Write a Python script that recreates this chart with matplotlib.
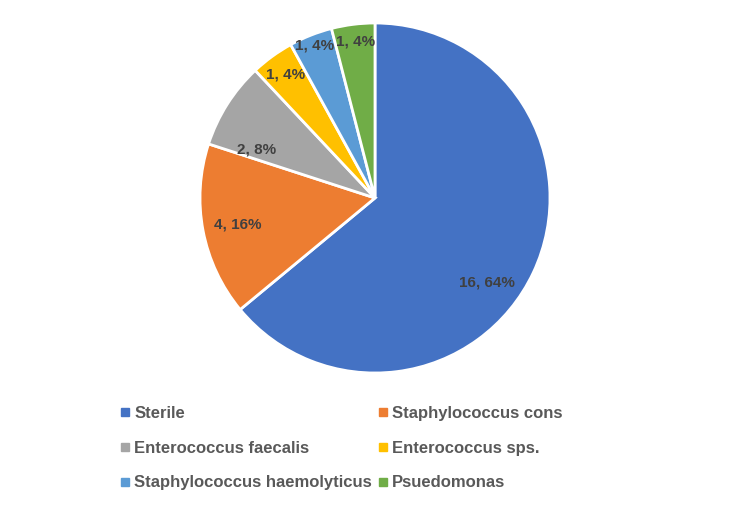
import matplotlib.pyplot as plt
import numpy as np

categories = ['Sterile', 'Staphylococcus cons', 'Enterococcus faecalis',
              'Enterococcus sps.', 'Staphylococcus haemolyticus', 'Psuedomonas']
counts = [16, 4, 2, 1, 1, 1]
colors = ['#4472C4', '#ED7D31', '#A5A5A5', '#FFC000', '#5B9BD5', '#70AD47']
label_radius = [0.8, 0.8, 0.73, 0.87, 0.94, 0.9]
label_turn = [-12, 0, 10, 0, 0, 0]  # degrees, nudges label off the mid angle

plt.rcParams['font.family'] = ['Liberation Sans', 'DejaVu Sans']

fig = plt.figure(figsize=(7.5, 5.09), dpi=100)
W, H = 750, 509
cx, cy, R = 375, 198, 175
ax = fig.add_axes([(cx - R) / W, (H - cy - R) / H, 2 * R / W, 2 * R / H])

wedges, _ = ax.pie(counts, colors=colors, startangle=90, counterclock=False,
                   wedgeprops=dict(edgecolor='white', linewidth=2))
ax.set_xlim(-1, 1)
ax.set_ylim(-1, 1)
ax.set_aspect('equal')

total = sum(counts)
for w, n, r, t in zip(wedges, counts, label_radius, label_turn):
    ang = np.deg2rad((w.theta1 + w.theta2) / 2 + t)
    ax.text(r * np.cos(ang), r * np.sin(ang), f'{n}, {round(100 * n / total)}%',
            ha='center', va='center', fontsize=11, fontweight='bold', color='#404040')

# legend is filled row by row in the reference
order = [0, 2, 4, 1, 3, 5]
handles = [plt.Line2D([], [], marker='s', linestyle='', markersize=6,
                      color=colors[i]) for i in order]
labels = [categories[i] for i in order]
leg = fig.legend(handles, labels, ncol=2, frameon=False,
                 loc='upper left', bbox_to_anchor=(105 / W, 1 - 391 / H),
                 handlelength=0.6, handletextpad=0.25, columnspacing=0.35,
                 labelspacing=1.18, prop=dict(size=12, weight='bold'),
                 labelcolor='#595959')

fig.savefig('out.png', dpi=100)
